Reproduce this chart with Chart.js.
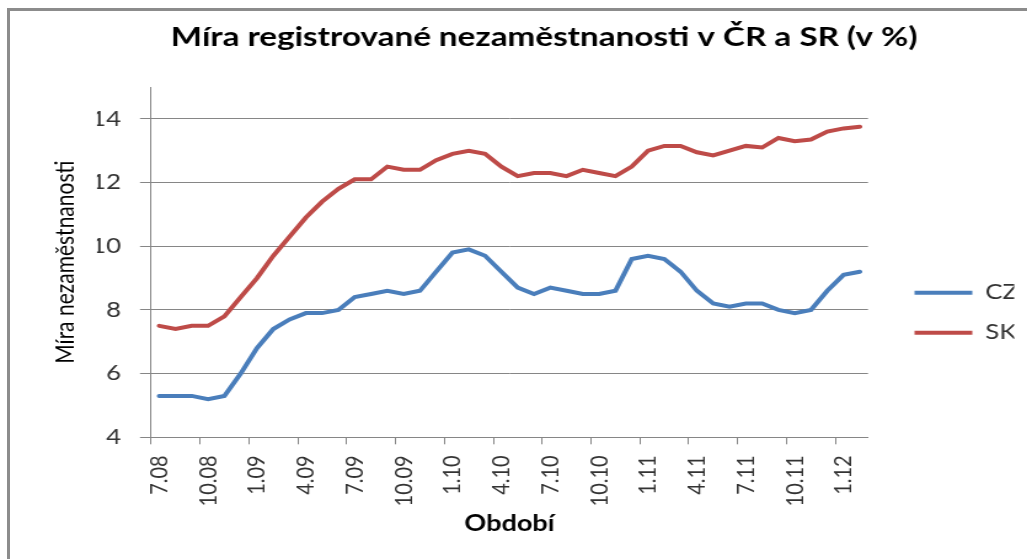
<!DOCTYPE html>
<html lang="cs">
<head>
<meta charset="utf-8">
<title>Míra registrované nezaměstnanosti v ČR a SR</title>
<script src="https://cdn.jsdelivr.net/npm/chart.js@4.4.1/dist/chart.umd.min.js"></script>
<style>
  html, body { margin: 0; padding: 0; background: #fff; overflow: hidden; }
  #frame { position: absolute; left: 7px; top: 8px; width: 1040px; height: 570px;
           border-left: 3px solid #8c8c8c; border-top: 3px solid #8c8c8c; }
  /* the original picture is an Excel chart stretched sideways, so stretch ours too */
  #wrap { position: absolute; left: 0; top: 0; width: 835px; height: 559px;
          transform: scaleX(1.23); transform-origin: 0 0; }
</style>
</head>
<body>
<div id="frame"></div>
<div id="wrap"><canvas id="unemploymentChart" width="835" height="559"></canvas></div>
<script>
// months 7.08 .. 2.12
const months = [
  '7.08', '8.08', '9.08', '10.08', '11.08', '12.08',
  '1.09', '2.09', '3.09', '4.09', '5.09', '6.09', '7.09', '8.09', '9.09', '10.09', '11.09', '12.09',
  '1.10', '2.10', '3.10', '4.10', '5.10', '6.10', '7.10', '8.10', '9.10', '10.10', '11.10', '12.10',
  '1.11', '2.11', '3.11', '4.11', '5.11', '6.11', '7.11', '8.11', '9.11', '10.11', '11.11', '12.11',
  '1.12', '2.12'
];

const cz = [
  5.3, 5.3, 5.3, 5.2, 5.3, 6.0,
  6.8, 7.4, 7.7, 7.9, 7.9, 8.0, 8.4, 8.5, 8.6, 8.5, 8.6, 9.2,
  9.8, 9.9, 9.7, 9.2, 8.7, 8.5, 8.7, 8.6, 8.5, 8.5, 8.6, 9.6,
  9.7, 9.6, 9.2, 8.6, 8.2, 8.1, 8.2, 8.2, 8.0, 7.9, 8.0, 8.6,
  9.1, 9.2
];

const sk = [
  7.5, 7.4, 7.5, 7.5, 7.8, 8.4,
  9.0, 9.7, 10.3, 10.9, 11.4, 11.8, 12.1, 12.1, 12.5, 12.4, 12.4, 12.7,
  12.9, 13.0, 12.9, 12.5, 12.2, 12.3, 12.3, 12.2, 12.4, 12.3, 12.2, 12.5,
  13.0, 13.15, 13.15, 12.95, 12.85, 13.0, 13.15, 13.1, 13.4, 13.3, 13.35, 13.6,
  13.7, 13.75
];

const yTicks = [4, 6, 8, 10, 12, 14];
const labelStep = 3; // one label every quarter

const axisGrey = '#868686';
const textGrey = '#333333';

// push the legend a bit right/down, Excel leaves a gap after the plot
const legendShift = {
  id: 'legendShift',
  afterLayout(chart) {
    const lg = chart.legend;
    lg.left += 18.8; lg.right += 18.8;
    lg.top += 33.2; lg.bottom += 33.2;
  }
};

const ctx = document.getElementById('unemploymentChart').getContext('2d');

new Chart(ctx, {
  type: 'line',
  data: {
    labels: months,
    datasets: [
      { label: 'CZ', data: cz, borderColor: '#4a7ebb', backgroundColor: '#4a7ebb', borderWidth: 4,
        borderCapStyle: 'round', pointRadius: 0, tension: 0 },
      { label: 'SK', data: sk, borderColor: '#be4b48', backgroundColor: '#be4b48', borderWidth: 4,
        borderCapStyle: 'round', pointRadius: 0, tension: 0 }
    ]
  },
  options: {
    responsive: false,
    animation: false,
    layout: { padding: { left: 78.9, right: 29.3, top: 0, bottom: 0 } },
    plugins: {
      title: {
        display: true,
        text: 'Míra registrované nezaměstnanosti v ČR a SR (v %)',
        color: '#000',
        font: { family: 'Lato', size: 27, weight: 'bold' },
        padding: { top: 20.8, bottom: 33.8 }
      },
      legend: {
        position: 'right',
        maxWidth: 100,
        labels: {
          usePointStyle: true,
          pointStyle: 'line',
          pointStyleWidth: 47,
          padding: 19,
          color: textGrey,
          font: { family: 'Lato', size: 21 }
        }
      },
      tooltip: { enabled: false }
    },
    scales: {
      x: {
        offset: true,
        afterFit: s => { s.height = 121.7; },
        grid: {
          offset: true,
          drawOnChartArea: false,
          tickLength: 7,
          color: c => c.index % labelStep === 0 ? axisGrey : 'transparent'
        },
        border: { color: axisGrey },
        ticks: {
          autoSkip: false,
          minRotation: 90,
          maxRotation: 90,
          padding: 11,
          color: textGrey,
          font: { family: 'Lato', size: 20 },
          callback: (v, i) => i % labelStep === 0 ? months[i] : ''
        },
        title: {
          display: true,
          text: 'Období',
          color: '#000',
          font: { family: 'Lato', size: 22, weight: 'bold' },
          padding: { top: 0, bottom: 22.3 }
        }
      },
      y: {
        min: 4,
        max: 15,
        afterBuildTicks: s => { s.ticks = yTicks.map(v => ({ value: v })); },
        afterFit: s => { s.width = 43.9; },
        grid: { color: axisGrey, tickLength: 9 },
        border: { color: axisGrey },
        ticks: { padding: 15.4, color: textGrey, font: { family: 'Lato', size: 21 } },
        title: {
          display: true,
          text: 'Míra nezaměstnanosti',
          color: '#000',
          font: { family: 'Lato', size: 21 },
          padding: { top: -38.7, bottom: 0 }
        }
      }
    }
  },
  plugins: [legendShift]
});
</script>
</body>
</html>
